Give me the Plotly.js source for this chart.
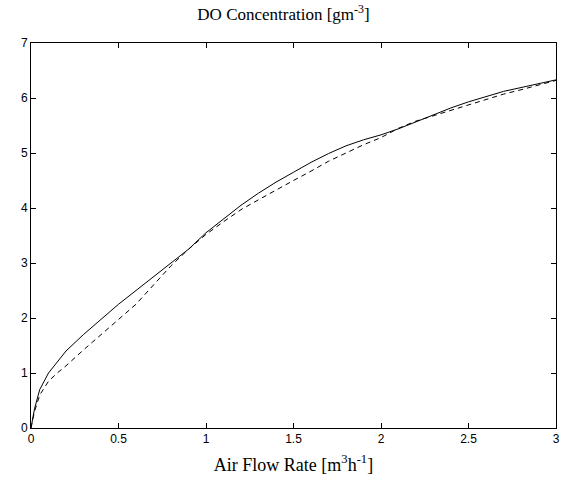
<!DOCTYPE html>
<html><head><meta charset="utf-8">
<script src="https://cdn.plot.ly/plotly-3.0.1.min.js"></script>
<style>html,body{margin:0;padding:0;background:#fff}#chart{width:567px;height:480px}</style>
</head><body><div id="chart"></div>
<script>
const xSolid = [0,0.02,0.05,0.1,0.15,0.2,0.3,0.4,0.5,0.6,0.7,0.8,0.9,1.0,1.1,1.2,1.3,1.4,1.5,1.6,1.7,1.8,1.9,2.0,2.1,2.2,2.3,2.4,2.5,2.6,2.7,2.8,2.9,3.0];
const ySolid = [0,0.35,0.7,1.0,1.2,1.4,1.7,1.98,2.25,2.5,2.75,3.0,3.25,3.55,3.8,4.05,4.27,4.47,4.65,4.83,4.99,5.13,5.24,5.33,5.44,5.57,5.7,5.82,5.93,6.03,6.12,6.19,6.26,6.33];
const xDashed = [0,0.02,0.05,0.1,0.15,0.2,0.3,0.4,0.5,0.6,0.7,0.8,0.9,1.0,1.1,1.2,1.3,1.4,1.5,1.6,1.7,1.8,1.9,2.0,2.1,2.2,2.3,2.4,2.5,2.6,2.7,2.8,2.9,3.0];
const yDashed = [0,0.3,0.6,0.85,1.0,1.13,1.42,1.7,1.97,2.25,2.6,2.95,3.25,3.52,3.75,3.97,4.15,4.33,4.5,4.67,4.85,5.0,5.15,5.28,5.45,5.58,5.68,5.78,5.87,5.97,6.07,6.15,6.24,6.32];
const xTicks = [0,0.5,1,1.5,2,2.5,3];
const xTickLabels = ['0','0.5','1','1.5','2','2.5','3'];
const yTicks = [0,1,2,3,4,5,6,7];

const traces = [
  {x:xSolid, y:ySolid, mode:'lines', line:{color:'#000', width:1}, showlegend:false},
  {x:xDashed, y:yDashed, mode:'lines', line:{color:'#000', width:1, dash:'5px,4px'}, showlegend:false}
];
const axisCommon = {showgrid:false, zeroline:false, showline:true, mirror:'ticks', linecolor:'#000', linewidth:1,
  ticks:'inside', ticklen:5, tickcolor:'#000', tickfont:{family:'Liberation Sans, Arial', size:12, color:'#000'}};
const layout = {
  width:567, height:480,
  margin:{l:31, r:11, t:43, b:52},
  paper_bgcolor:'#fff', plot_bgcolor:'#fff',
  title:{text:'DO Concentration [gm<sup>-3</sup>]', font:{family:'Liberation Serif, Times New Roman', size:17, color:'#000'}, x:0.5, xanchor:'center', y:0.97, yref:'container', yanchor:'middle'},
  xaxis:Object.assign({}, axisCommon, {range:[0,3], tickvals:xTicks, ticktext:xTickLabels,
    title:{text:'Air Flow Rate [m<sup>3</sup>h<sup>-1</sup>]', font:{family:'Liberation Serif, Times New Roman', size:18, color:'#000'}, standoff:12}}),
  yaxis:Object.assign({}, axisCommon, {range:[0,7], tickvals:yTicks})
};
Plotly.newPlot('chart', traces, layout, {displayModeBar:false, staticPlot:true});
</script></body></html>
